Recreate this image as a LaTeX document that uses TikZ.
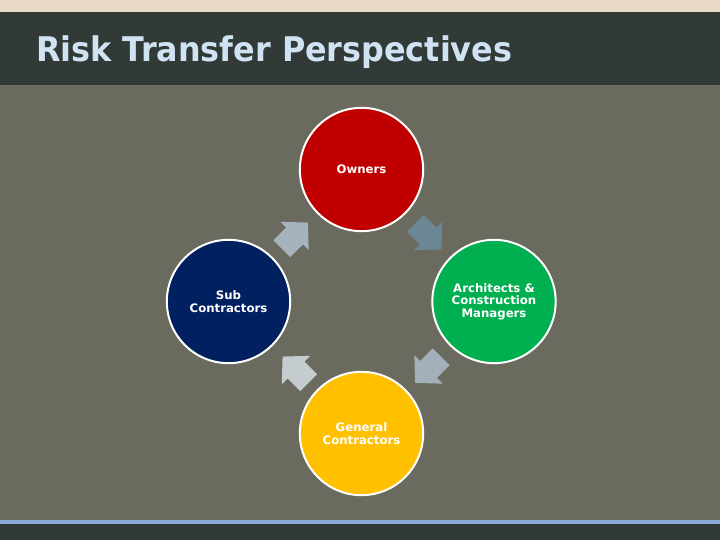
\documentclass[tikz,border=0pt]{standalone}
\usepackage{fontspec}
\setmainfont{DejaVu Sans}
\usepackage{graphicx}
\definecolor{beige}{HTML}{E9D9C7}
\definecolor{darkhdr}{HTML}{313A37}
\definecolor{bodybg}{HTML}{6A6B5E}
\definecolor{blueline}{HTML}{8EAADB}
\definecolor{titleblue}{HTML}{D0E3F3}
\definecolor{cred}{HTML}{C00000}
\definecolor{cgreen}{HTML}{00B050}
\definecolor{cnavy}{HTML}{002060}
\definecolor{cyellow}{HTML}{FFC000}
\definecolor{arrA}{HTML}{A5B3BC}
\definecolor{arrB}{HTML}{6B8796}
\definecolor{arrC}{HTML}{A3B0BA}
\definecolor{arrD}{HTML}{C5CCD0}
\tikzset{
  stage/.style={circle, draw=white, line width=0.06cm, minimum size=3.7cm, inner sep=0pt,
    text=white, align=center, font=\bfseries\fontsize{10}{10.8}\selectfont},
  blockarrow/.pic={\fill[#1] (-18,-12) -- (0,-12) -- (0,-20) -- (19,0) -- (0,20) -- (0,12) -- (-18,12) -- cycle;}
}
\begin{document}
\begin{tikzpicture}[x=0.03cm, y=-0.03cm]
\useasboundingbox (0,0) rectangle (720,540);
\fill[bodybg] (0,0) rectangle (720,540);
\fill[beige] (0,0) rectangle (720,12);
\fill[darkhdr] (0,12) rectangle (720,85);
\fill[blueline] (0,520) rectangle (720,524);
\fill[darkhdr] (0,524) rectangle (720,540);
\node[anchor=base west, inner sep=0pt, text=titleblue, font=\bfseries\fontsize{29}{34}\selectfont] (title) at (36,62) {\resizebox{14.28cm}{\height}{Risk Transfer Perspectives}};
\node[stage, fill=cred] (owners) at (361.5,169.5) {Owners};
\node[stage, fill=cgreen] (arch) at (494,301.5) {Architects \&\\Construction\\Managers};
\node[stage, fill=cyellow] (gen) at (361.5,433.5) {General\\Contractors};
\node[stage, fill=cnavy] (sub) at (228.5,301.5) {Sub\\Contractors};
\pic[shift={(294.5,236)}, rotate=45] (a1) {blockarrow=arrA};
\pic[shift={(428,236)}, rotate=-45] (a2) {blockarrow=arrB};
\pic[shift={(428.5,369.5)}, rotate=-135] (a3) {blockarrow=arrC};
\pic[shift={(296,370)}, rotate=135] (a4) {blockarrow=arrD};
\end{tikzpicture}
\end{document}
